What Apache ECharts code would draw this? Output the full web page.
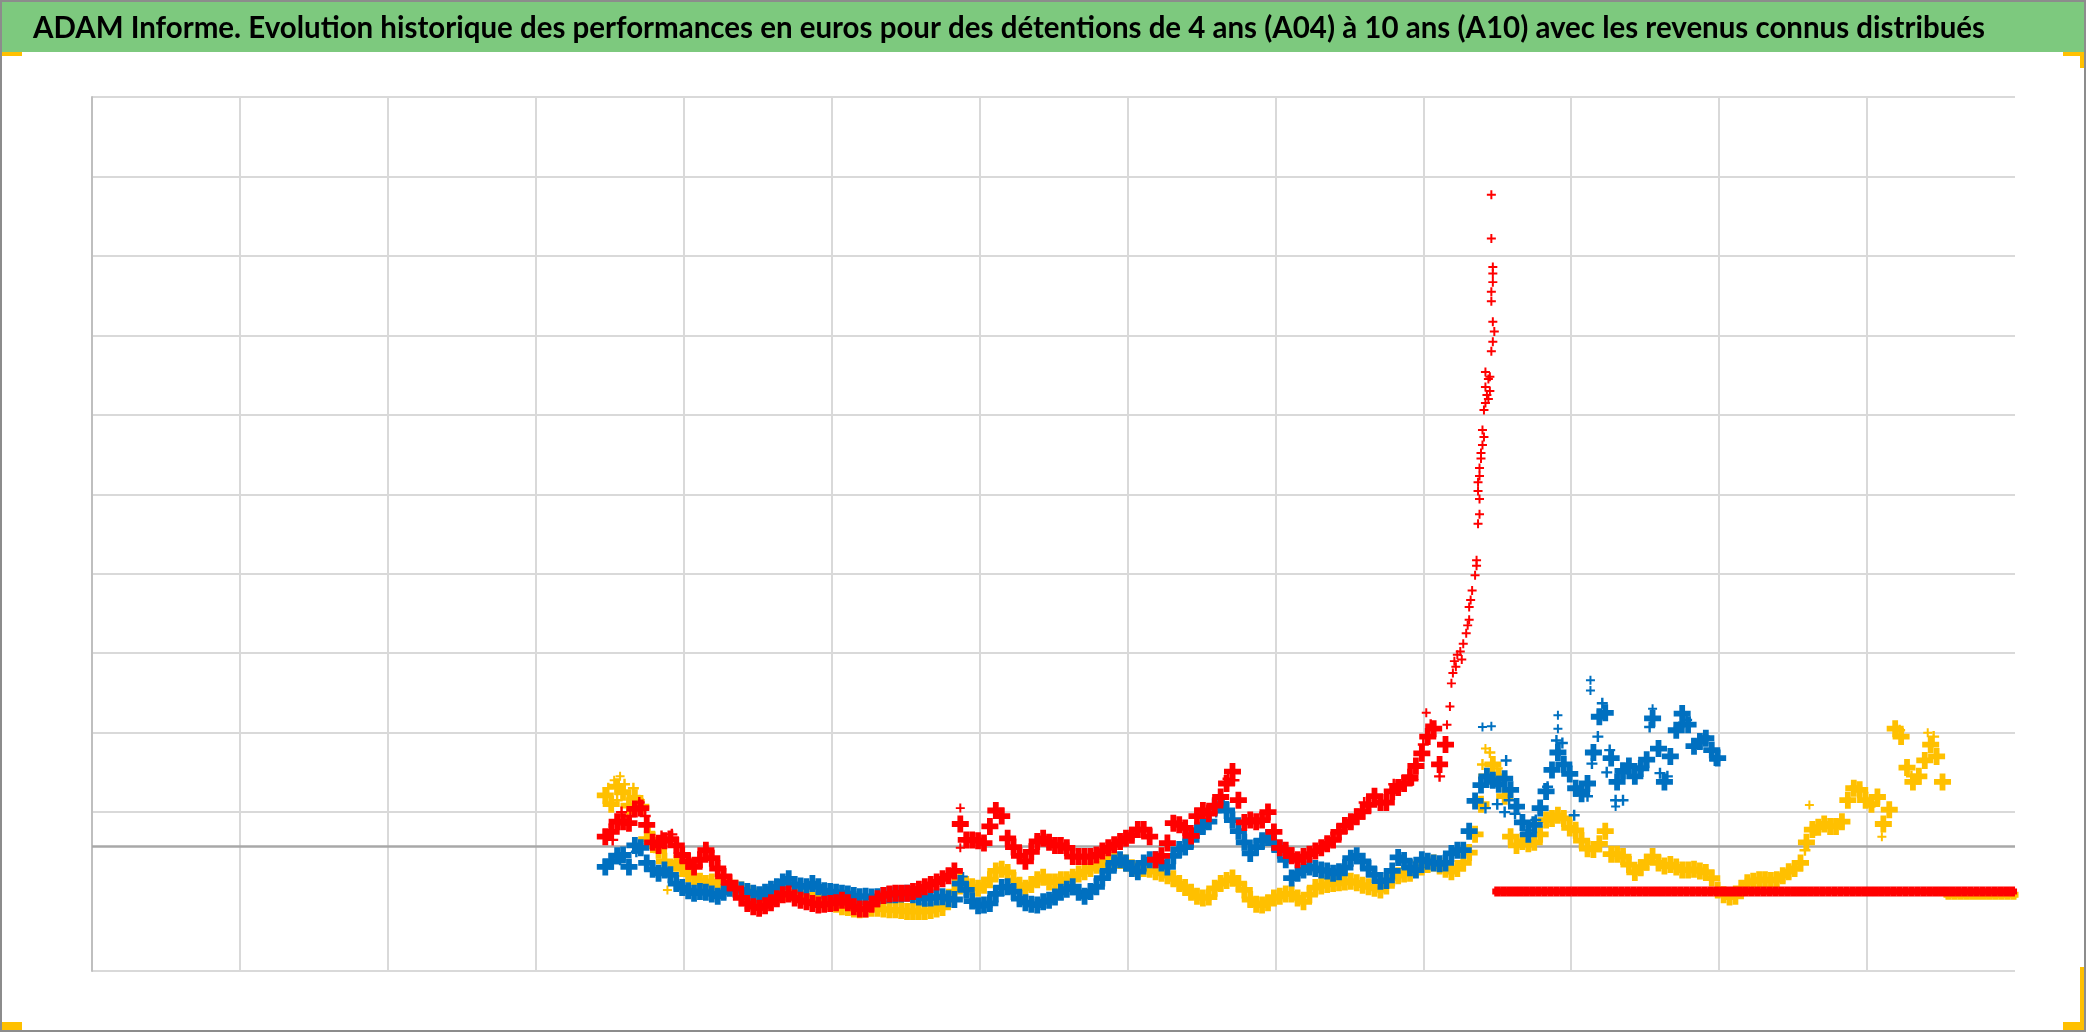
<!DOCTYPE html>
<html><head><meta charset="utf-8">
<script src="https://cdn.jsdelivr.net/npm/echarts@6/dist/echarts.min.js"></script>
<style>html,body{margin:0;padding:0;background:#fff}#c{width:2086px;height:1032px}</style>
</head><body><div id="c"></div>
<script>
const TITLE = 'ADAM Informe. Evolution historique des performances en euros pour des détentions de 4 ans (A04) à 10 ans (A10) avec les revenus connus distribués';

// x axis: 13 equal periods (no labels shown in the reference)
const X_MIN = 0, X_MAX = 13, X_INTERVAL = 1;
// y axis: 11 equal bands (no labels shown in the reference)
const Y_MIN = 0, Y_MAX = 11, Y_INTERVAL = 1;
// horizontal axis crossing value
const AXIS_CROSS = 1.573;

// sampling of the dense series (evenly spaced dates)
const X_START = 3.47, X_STEP = 0.04;

// A04 (yellow)
const a04 = [
2.21,2.10,2.32,2.25,2.08,2.18,2.07,1.66,1.65,1.52,
1.38,1.30,1.36,1.29,1.22,1.19,1.13,1.10,1.12,1.11,
1.07,1.06,1.04,1.02,1.00,0.97,0.94,0.94,0.95,0.96,
0.98,0.99,0.99,0.96,0.94,0.93,0.91,0.89,0.87,0.84,
0.81,0.80,0.78,0.77,0.78,0.79,0.79,0.78,0.77,0.77,
0.76,0.75,0.75,0.75,0.75,0.76,0.78,0.80,0.90,1.00,
1.14,1.09,1.06,1.04,1.08,1.15,1.26,1.28,1.24,1.14,
1.08,1.04,1.09,1.15,1.18,1.12,1.12,1.15,1.15,1.18,
1.22,1.25,1.29,1.33,1.35,1.38,1.40,1.39,1.36,1.30,
1.27,1.29,1.28,1.25,1.23,1.20,1.16,1.10,1.05,0.99,
0.94,0.92,0.93,1.04,1.10,1.14,1.17,1.10,1.02,0.90,
0.84,0.83,0.86,0.92,0.94,0.97,0.97,0.92,0.87,0.96,
1.05,1.07,1.09,1.10,1.11,1.12,1.13,1.11,1.08,1.06,
1.04,1.02,1.07,1.17,1.20,1.22,1.23,1.28,1.31,1.34,
1.36,1.32,1.28,1.25,1.29,1.36,1.49,1.72,2.10,2.45,
2.60,2.45,2.20,1.69,1.58,1.63,1.60,1.62,1.72,1.90,
1.92,1.96,1.92,1.80,1.77,1.64,1.54,1.53,1.60,1.76,
1.47,1.47,1.44,1.34,1.24,1.30,1.37,1.44,1.36,1.32,
1.34,1.31,1.27,1.27,1.28,1.26,1.24,1.17,1.02,0.96,
0.93,0.94,1.04,1.11,1.13,1.15,1.15,1.14,1.15,1.20,
1.25,1.29,1.36,1.62,1.78,1.81,1.85,1.82,1.82,1.88,
2.15,2.30,2.28,2.15,2.10,2.19,1.85,2.03,3.05,2.95,
2.56,2.38,2.45,2.65,2.85,2.70,2.38
];
const A04_TAIL_START = 12.55;
const a04Tail = [0.96,0.96,0.96,0.96,0.96,0.96,0.96,0.96,0.96,0.96,0.96,0.96];
// scattered daily points read around the A04 band
const a04Spread = [[3.49,2.30],[3.55,2.15],[3.60,2.35],[3.62,2.00],[3.66,2.30],[3.70,2.15],[3.77,1.75],[3.80,1.55],
  [9.40,2.60],[9.45,2.75],[9.50,2.55],[11.58,1.52],[11.65,1.77],[11.92,2.32],[12.02,2.07],[12.22,3.03],[12.30,2.45],[12.45,2.95]];
const a04Extra = [[3.89,1.02],[3.57,2.45],[3.53,2.40],[11.61,2.09],[12.10,1.69],[9.42,2.80],[12.41,3.00]];

// A07 (blue)
const a07 = [
1.31,1.38,1.45,1.46,1.31,1.58,1.55,1.36,1.28,1.23,
1.27,1.21,1.10,1.05,1.01,0.98,1.00,0.99,0.97,0.94,
0.99,1.04,1.03,1.02,1.00,0.98,0.96,0.99,1.03,1.06,
1.12,1.16,1.09,1.07,1.06,1.10,1.06,1.01,1.00,0.99,
0.98,0.97,0.95,0.935,0.94,0.93,0.935,0.95,0.96,0.96,
0.97,0.98,0.96,0.93,0.915,0.92,0.93,0.935,0.91,0.90,
1.10,1.02,0.88,0.82,0.83,0.85,0.97,1.05,1.06,1.00,
0.91,0.86,0.84,0.83,0.87,0.89,0.93,0.99,1.03,1.06,
0.99,0.94,1.00,1.06,1.17,1.26,1.36,1.40,1.36,1.29,
1.25,1.36,1.40,1.40,1.36,1.31,1.45,1.53,1.56,1.65,
1.77,1.82,1.88,2.06,2.10,2.02,1.90,1.76,1.62,1.48,
1.56,1.64,1.68,1.61,1.52,1.40,1.17,1.23,1.27,1.31,
1.29,1.27,1.26,1.23,1.25,1.30,1.42,1.45,1.38,1.29,
1.21,1.13,1.14,1.26,1.43,1.39,1.30,1.27,1.40,1.38,
1.36,1.35,1.36,1.48,1.52,1.52,1.76,2.14,2.34,2.45,
2.40,2.35,2.42,2.28,2.07,1.87,1.72,1.84,2.05,2.26,
2.53,2.75,2.60,2.48,2.30,2.23,2.36,2.75,3.20,3.25,
2.68,2.38,2.52,2.58,2.45,2.55,2.66,3.18,2.80,2.38,
2.70,3.03,3.24,3.10,2.83,2.89,2.93,2.78,2.68
];
// scattered daily points read around the A07 band
const a07Spread = [[9.42,2.05],[9.50,2.10],[9.55,2.00],[9.56,2.65],[9.58,2.15],[9.62,1.98],[9.70,1.77],[9.76,1.90],[9.84,2.32],
  [9.90,2.90],[9.94,2.87],[10.02,1.96],[10.06,2.28],[10.11,2.20],[10.14,2.61],[10.18,2.95],[10.21,3.37],[10.24,2.50],[10.26,2.78],
  [10.30,2.15],[10.34,2.49],[10.35,2.15],[10.48,2.57],[10.53,3.07],[10.60,2.49],[10.65,2.45],[10.73,3.07],[10.78,3.16],
  [10.86,2.87],[10.90,2.95],[10.97,2.65],[3.57,1.40],[3.68,1.50],[7.60,2.00],[7.65,2.12]];
const a07Extra = [[9.46,3.08],[9.40,3.07],[9.91,3.22],[9.91,3.05],[10.13,3.66],[10.13,3.53],[10.30,2.07],[5.89,1.19],[10.55,3.30]];

// A10 (red)
const a10 = [
1.69,1.75,1.88,1.88,1.86,2.04,2.05,1.84,1.62,1.58,
1.64,1.66,1.58,1.46,1.38,1.31,1.40,1.52,1.42,1.29,
1.19,1.11,1.04,0.92,0.85,0.81,0.79,0.82,0.86,0.91,
0.96,0.97,0.92,0.89,0.87,0.85,0.83,0.84,0.85,0.86,
0.89,0.86,0.81,0.78,0.78,0.84,0.91,0.95,0.97,0.98,
0.98,0.98,1.00,1.03,1.06,1.09,1.12,1.16,1.20,1.26,
1.85,1.65,1.65,1.64,1.61,1.82,2.02,1.95,1.67,1.56,
1.45,1.38,1.50,1.63,1.67,1.62,1.58,1.58,1.55,1.44,
1.44,1.44,1.44,1.46,1.51,1.55,1.59,1.63,1.67,1.71,
1.78,1.78,1.69,1.40,1.45,1.61,1.86,1.84,1.80,1.70,
1.95,2.02,1.98,2.08,2.19,2.36,2.51,2.15,1.87,1.90,
1.88,1.90,2.00,1.75,1.55,1.52,1.45,1.40,1.44,1.47,
1.51,1.55,1.60,1.65,1.75,1.83,1.88,1.94,2.01,2.09,
2.20,2.12,2.12,2.26,2.31,2.36,2.44,2.58,2.74,2.95,
3.05,2.60,2.85
];
// scattered daily points read around the A10 band
const a10Spread = [[3.52,1.65],[3.58,2.00],[3.64,1.95],[3.70,2.12],[3.74,1.95],[3.85,1.70],[3.92,1.72],[4.16,1.50],
  [7.68,2.42],[7.72,2.40],[8.60,2.12],[8.80,2.35],[8.93,2.40],[9.00,2.85],[9.05,3.10],[9.11,2.45]];
const a10Extra = [[5.87,2.05],[5.87,1.55],[9.02,3.25],[9.16,3.10]];
const a10Spike = [
[9.18,3.33],[9.19,3.62],[9.20,3.75],[9.21,3.90],[9.22,3.83],[9.23,3.98],[9.25,4.02],[9.26,3.92],[9.27,4.12],[9.29,4.25],
[9.30,4.35],[9.31,4.42],[9.31,4.58],[9.32,4.67],[9.33,4.79],[9.35,4.98],[9.36,5.10],[9.36,5.17],[9.37,5.63],[9.38,5.75],
[9.38,5.94],[9.37,6.04],[9.37,6.15],[9.38,6.23],[9.38,6.33],[9.39,6.45],[9.39,6.52],[9.40,6.62],[9.41,6.72],[9.40,6.81],
[9.41,7.06],[9.42,7.15],[9.43,7.25],[9.44,7.20],[9.42,7.35],[9.44,7.45],[9.42,7.54],[9.45,7.48],[9.45,7.30],[9.46,7.80],
[9.47,7.92],[9.48,8.05],[9.47,8.17],[9.46,8.43],[9.46,8.55],[9.47,8.67],[9.47,8.78],[9.47,8.86],[9.46,9.22],[9.46,9.77]
];
const A10_TAIL_START = 9.50;
const a10Tail = [
1,1,1,1,1,1,1,1,1,1, 1,1,1,1,1,1,1,1,1,1, 1,1,1,1,1,1,1,1,1,1,
1,1,1,1,1,1,1,1,1,1, 1,1,1,1,1,1,1,1,1,1, 1,1,1,1,1,1,1,1,1,1,
1,1,1,1,1,1,1,1,1,1, 1,1,1,1,1,1,1,1,1,1, 1,1,1,1,1,1,1,1
];

const COLORS = { a04: '#FFC000', a07: '#0070C0', a10: '#FF0000' };
// '+' markers: thick arms for the dense daily bands, thin arms for isolated points
const PLUS_DENSE = 'path://M3.3,0H6.7V3.3H10V6.7H6.7V10H3.3V6.7H0V3.3H3.3Z';
const PLUS_THIN = 'path://M3.9,0H6.1V3.9H10V6.1H6.1V10H3.9V6.1H0V3.9H3.9Z';
const PLUS_FLAT = 'path://M2,0H8V2H10V8H8V10H2V8H0V2H2Z';

function seq(arr, start, step) { return arr.map((v, i) => [+(start + i * step).toFixed(4), v]); }

const chart = echarts.init(document.getElementById('c'), null, { renderer: 'canvas' });

const gridColors = [];
for (let v = Y_MIN; v <= Y_MAX; v += Y_INTERVAL) gridColors.push(v === 1 ? 'rgba(0,0,0,0)' : '#D9D9D9');

function scatter(name, data, color, z, symbol, size) {
  return { name, type: 'scatter', data, symbol, symbolSize: size, z,
    itemStyle: { color, opacity: 1 }, emphasis: { disabled: true }, silent: true, animation: false };
}

const DENSE = 17, SPREAD = 11, THIN = 9, FLAT = 10;
const series = [
  Object.assign(scatter('A04', seq(a04, X_START, X_STEP), COLORS.a04, 3, PLUS_DENSE, DENSE), {
    markLine: { silent: true, z: 1, symbol: ['none', 'none'], label: { show: false },
      lineStyle: { color: '#A8A8A8', width: 2.5, type: 'solid' }, data: [{ yAxis: AXIS_CROSS }], animation: false }
  }),
  scatter('A04 s', a04Spread, COLORS.a04, 3, PLUS_THIN, SPREAD),
  scatter('A04 x', a04Extra, COLORS.a04, 3, PLUS_THIN, THIN),
  scatter('A04 t', seq(a04Tail, A04_TAIL_START, X_STEP), COLORS.a04, 3, PLUS_FLAT, FLAT),
  scatter('A07', seq(a07, X_START, X_STEP), COLORS.a07, 4, PLUS_DENSE, DENSE),
  scatter('A07 s', a07Spread, COLORS.a07, 4, PLUS_THIN, SPREAD),
  scatter('A07 x', a07Extra, COLORS.a07, 4, PLUS_THIN, THIN),
  scatter('A10', seq(a10, X_START, X_STEP), COLORS.a10, 5, PLUS_DENSE, DENSE),
  scatter('A10 s', a10Spread, COLORS.a10, 5, PLUS_THIN, SPREAD),
  scatter('A10 x', a10Extra.concat(a10Spike), COLORS.a10, 5, PLUS_THIN, THIN),
  scatter('A10 t', seq(a10Tail, A10_TAIL_START, X_STEP), COLORS.a10, 5, PLUS_FLAT, FLAT)
];

// title: condensed bold sans, fitted to the width it occupies in the reference
const TITLE_FONT = 'bold 31px Lato, "Liberation Sans", sans-serif';
const TITLE_LEFT = 33, TITLE_RIGHT = 1985;
const mctx = document.createElement('canvas').getContext('2d');
mctx.font = TITLE_FONT;
const titleScale = (TITLE_RIGHT - TITLE_LEFT) / mctx.measureText(TITLE).width;

chart.setOption({
  backgroundColor: '#ffffff',
  animation: false,
  grid: { left: 92, top: 97, right: 71, bottom: 61, containLabel: false },
  xAxis: {
    type: 'value', min: X_MIN, max: X_MAX, interval: X_INTERVAL,
    axisLabel: { show: false }, axisTick: { show: false }, axisLine: { show: false },
    splitLine: { show: true, showMaxLine: false, showMinLine: false, lineStyle: { color: '#D9D9D9', width: 2 } }
  },
  yAxis: {
    type: 'value', min: Y_MIN, max: Y_MAX, interval: Y_INTERVAL,
    axisLabel: { show: false }, axisTick: { show: false },
    axisLine: { show: true, lineStyle: { color: '#BFBFBF', width: 2 } },
    splitLine: { show: true, lineStyle: { color: gridColors, width: 2 } }
  },
  graphic: [
    { type: 'rect', z: -10, shape: { x: 0, y: 0, width: 2086, height: 52 }, style: { fill: '#7DC97E' } },
    { type: 'text', z: 10, x: TITLE_LEFT, y: 28, scaleX: titleScale,
      style: { text: TITLE, x: 0, y: 0, font: TITLE_FONT, fill: '#000000', align: 'left', verticalAlign: 'middle' } },
    { type: 'rect', z: 100, shape: { x: 0, y: 52, width: 22, height: 4 }, style: { fill: '#FFC000' } },
    { type: 'rect', z: 100, shape: { x: 2063, y: 52, width: 22, height: 4 }, style: { fill: '#FFC000' } },
    { type: 'rect', z: 100, shape: { x: 2080, y: 52, width: 5, height: 16 }, style: { fill: '#FFC000' } },
    { type: 'rect', z: 100, shape: { x: 0, y: 1022, width: 22, height: 8 }, style: { fill: '#FFC000' } },
    { type: 'rect', z: 100, shape: { x: 2080, y: 967, width: 5, height: 64 }, style: { fill: '#FFC000' } },
    { type: 'rect', z: 100, shape: { x: 2063, y: 1022, width: 22, height: 8 }, style: { fill: '#FFC000' } },
    { type: 'rect', z: 101, shape: { x: 1, y: 1, width: 2084, height: 1030 }, style: { fill: 'none', stroke: '#8C8C8C', lineWidth: 2 } }
  ],
  series
});
</script>
</body></html>
